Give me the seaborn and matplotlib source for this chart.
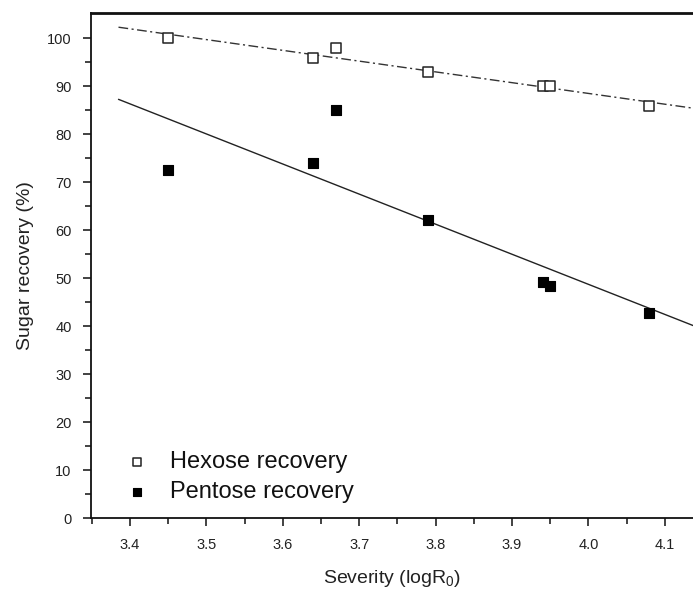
import matplotlib
matplotlib.use("Agg")
import matplotlib.pyplot as plt
import seaborn as sns
import numpy as np

# Data
severity = [3.45, 3.64, 3.67, 3.79, 3.94, 3.95, 4.08]
hexose = [100.0, 96.0, 98.0, 93.0, 90.0, 90.0, 86.0]
pentose = [72.6, 74.0, 85.0, 62.1, 49.3, 48.4, 42.7]
x_ticks = [3.4, 3.5, 3.6, 3.7, 3.8, 3.9, 4.0, 4.1]
y_ticks = [0, 10, 20, 30, 40, 50, 60, 70, 80, 90, 100]

sns.set_style("ticks")
plt.rcParams['font.family'] = ['Liberation Sans', 'DejaVu Sans']
plt.rcParams['mathtext.fontset'] = 'custom'
plt.rcParams['mathtext.rm'] = 'Liberation Sans'
plt.rcParams['mathtext.it'] = 'Liberation Sans'

fig = plt.figure(figsize=(6.93, 5.92), dpi=100)
ax = fig.add_axes([91/693, 73.7/592, 1 - 91/693, (518.3 - 13)/592])

# fit lines start at 3.385 and run past the right edge
ax.set_xlim(3.385, 4.25)

sns.regplot(x=np.array(severity), y=np.array(hexose), ax=ax, ci=None,
            truncate=False, marker='s', label='Hexose recovery',
            scatter_kws=dict(s=52, facecolors='white', edgecolors='#222222',
                             linewidths=1.1, alpha=1, zorder=3),
            line_kws=dict(color='#333333', lw=1.0,
                          linestyle=(0, (7, 2.5, 1.5, 2.5)), zorder=2))
sns.regplot(x=np.array(severity), y=np.array(pentose), ax=ax, ci=None,
            truncate=False, marker='s', label='Pentose recovery',
            scatter_kws=dict(s=52, facecolors='black', edgecolors='black',
                             linewidths=0.8, alpha=1, zorder=3),
            line_kws=dict(color='#222222', lw=1.0, zorder=2))

ax.set_xlim(3.349, 4.137)
ax.set_ylim(0, 105.3)
ax.set_xticks(x_ticks)
ax.set_xticklabels([f"{v:.1f}" for v in x_ticks])
ax.set_yticks(y_ticks)
ax.set_xticks(np.arange(3.35, 4.14, 0.1), minor=True)
ax.set_yticks(np.arange(5, 105, 10), minor=True)

ax.tick_params(axis='both', which='major', direction='out', length=6,
               width=1.2, labelsize=10.5, colors='#222222', pad=8)
ax.tick_params(axis='both', which='minor', direction='out', length=4,
               width=1.2, colors='#222222')

for s in ['left', 'bottom']:
    ax.spines[s].set_linewidth(1.3)
    ax.spines[s].set_color('#111111')
ax.spines['top'].set_visible(True)
ax.spines['top'].set_linewidth(2.0)
ax.spines['top'].set_color('#111111')
ax.spines['right'].set_visible(False)

ax.set_xlabel(r'Severity (logR$_\mathregular{0}$)', fontsize=14,
              color='#222222', labelpad=12)
ax.set_ylabel('Sugar recovery (%)', fontsize=14, color='#222222', labelpad=9)

leg = ax.legend(loc='lower left', bbox_to_anchor=(0.03, 0.011), frameon=False,
                fontsize=17, markerscale=0.75, handlelength=1.6,
                handletextpad=0.6, labelspacing=0.36, borderaxespad=0)
for t in leg.get_texts():
    t.set_color('#111111')

fig.savefig('out.png', dpi=100)
